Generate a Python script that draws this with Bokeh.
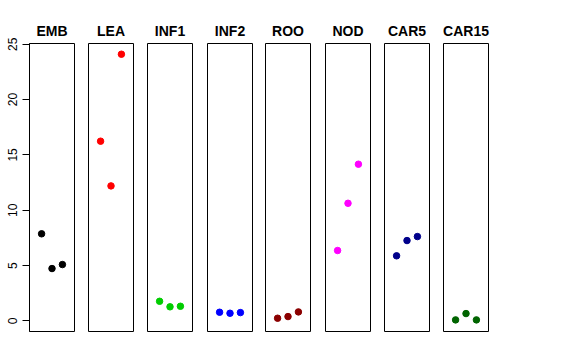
from bokeh.plotting import figure
from bokeh.layouts import row
from bokeh.models import Range1d, FixedTicker
from bokeh.embed import file_html
from bokeh.resources import INLINE

groups = ["EMB", "LEA", "INF1", "INF2", "ROO", "NOD", "CAR5", "CAR15"]
colors = ["black", "red", "#00CD00", "blue", "#8B0000", "magenta", "#00008B", "#006400"]
reps = [1, 2, 3]
emb = [7.87, 4.73, 5.09]
lea = [16.24, 12.2, 24.1]
inf1 = [1.77, 1.27, 1.32]
inf2 = [0.78, 0.69, 0.75]
roo = [0.24, 0.39, 0.81]
nod = [6.36, 10.63, 14.16]
car5 = [5.88, 7.26, 7.62]
car15 = [0.09, 0.66, 0.09]
series = [emb, lea, inf1, inf2, roo, nod, car5, car15]
y_ticks = [0, 5, 10, 15, 20, 25]

right_borders = [14, 14, 15, 13, 15, 14, 14, 10]

figs = []
for i, (name, col, vals) in enumerate(zip(groups, colors, series)):
    first = i == 0
    p = figure(
        frame_width=45, frame_height=288,
        x_range=Range1d(-0.16, 4.16), y_range=Range1d(-0.96, 25.07),
        output_backend="svg", toolbar_location=None,
        x_axis_location=None, y_axis_location="left" if first else None,
        min_border_left=29 if first else 0, min_border_right=right_borders[i],
        min_border_top=43, min_border_bottom=10,
        title=name,
    )
    p.title.align = "center"
    p.title.text_font = "Liberation Sans"
    p.title.text_font_style = "bold"
    p.title.text_font_size = "14px"
    p.title.text_color = "black"
    p.grid.visible = False
    p.outline_line_color = "black"
    p.outline_line_width = 1
    p.background_fill_color = "white"
    p.border_fill_color = "white"
    if first:
        ax = p.yaxis[0]
        ax.ticker = FixedTicker(ticks=y_ticks)
        ax.major_tick_out = 7
        ax.major_tick_in = 0
        ax.minor_tick_line_color = None
        ax.major_label_orientation = "vertical"
        ax.major_label_text_font = "Liberation Sans"
        ax.major_label_text_font_size = "12px"
        ax.major_label_text_color = "black"
        ax.major_label_standoff = 5
        ax.axis_line_color = "black"
        ax.major_tick_line_color = "black"
    p.scatter(x=reps, y=vals, size=6.5, color=col)
    figs.append(p)

layout = row(*figs, spacing=0)
open("out.html", "w").write(file_html(layout, INLINE))
